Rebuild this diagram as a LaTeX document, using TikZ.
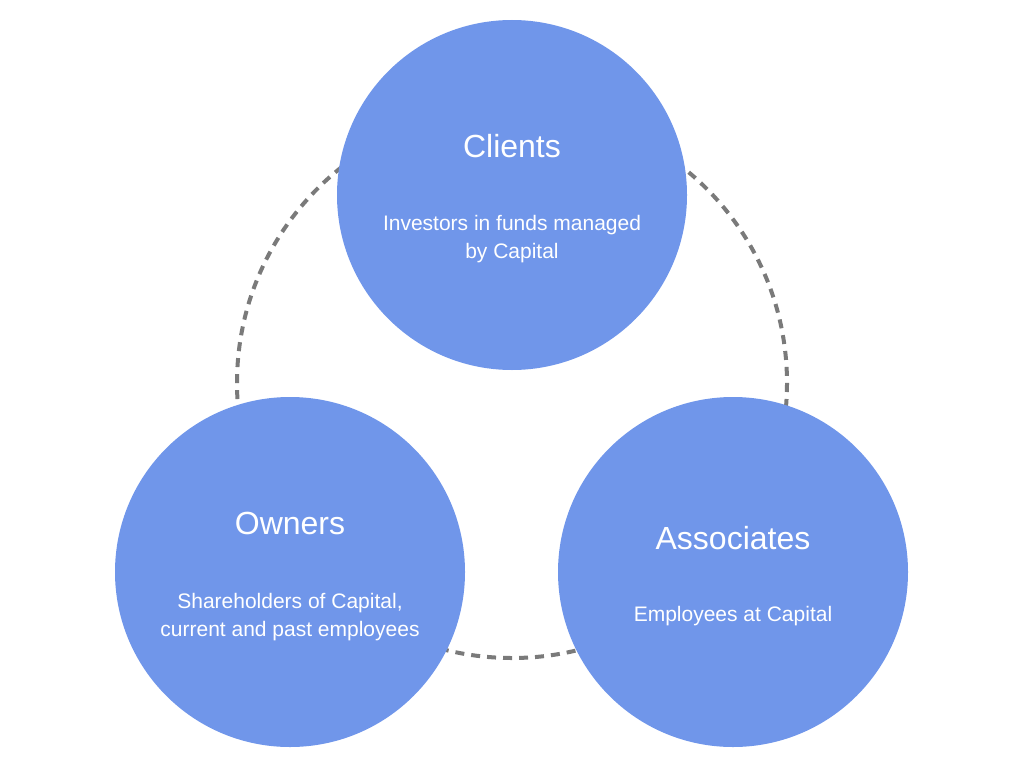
\documentclass[tikz,border=0pt]{standalone}
\usepackage{fontspec}
\setmainfont{Liberation Sans}
\definecolor{cblue}{HTML}{7096EA}
\definecolor{dgray}{HTML}{7A7A7A}
\begin{document}
\begin{tikzpicture}[x=1pt,y=-1pt,
  bubble/.style={circle,fill=cblue,minimum size=350pt,inner sep=0pt},
  ttl/.style={text=white,font=\fontsize{32}{36}\selectfont},
  sub/.style={text=white,font=\fontsize{21}{28}\selectfont,align=center}]
\useasboundingbox (0,0) rectangle (1024,768);
\draw[dgray,line width=4pt,dash pattern=on 9pt off 7pt] (512,383) circle (275);
\node[bubble] (c) at (512,195) {};
\node[bubble] (o) at (290,572) {};
\node[bubble] (a) at (733,572) {};
\node[ttl] (ct) at (512,146) {Clients};
\node[sub] (cs) at (512,239) {Investors in funds managed\\by Capital};
\node[ttl] (ot) at (290,523) {Owners};
\node[sub] (os) at (290,617) {Shareholders of Capital,\\current and past employees};
\node[ttl] (at) at (733,538) {Associates};
\node[sub] (as) at (733,616) {Employees at Capital};
\end{tikzpicture}
\end{document}
